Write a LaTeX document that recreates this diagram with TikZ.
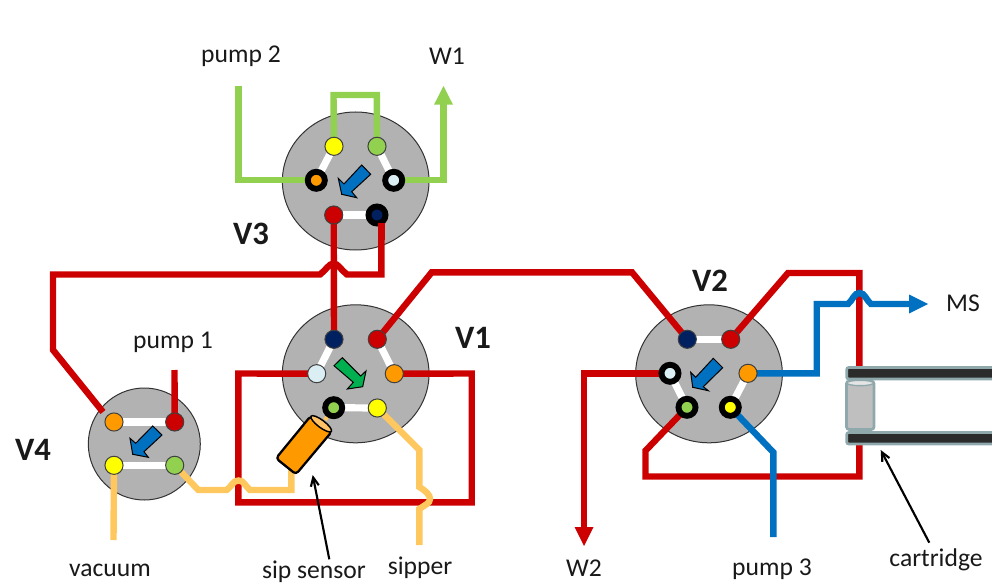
\documentclass[tikz,border=0pt]{standalone}
\usepackage{fontspec}
\setmainfont{Carlito}
\usetikzlibrary{arrows.meta,shapes.geometric,calc}
\pgfdeclarelayer{disc}\pgfdeclarelayer{wire}
\pgfsetlayers{disc,wire,main}
\definecolor{cred}{HTML}{CC0000}
\definecolor{cgreen}{HTML}{92D050}
\definecolor{ctan}{HTML}{FFC85F}
\definecolor{cblue}{HTML}{0070C0}
\definecolor{corange}{HTML}{FF9900}
\definecolor{clight}{HTML}{DAEEF3}
\definecolor{cnavy}{HTML}{002060}
\definecolor{cyel}{HTML}{FFFF00}
\definecolor{carrowg}{HTML}{00B050}
\definecolor{cdisc}{HTML}{B2B2B2}
\definecolor{cteal}{HTML}{8FA8AC}
\definecolor{cbar}{HTML}{2B2B2B}
\tikzset{
  x=.75pt,y=-.75pt,
  valve/.style={ellipse,draw=black!80,line width=.75pt,fill=cdisc,inner sep=0pt,outer sep=0pt,minimum width=110pt,minimum height=103.5pt},
  smallvalve/.style={valve,minimum width=84pt,minimum height=84pt},
  port/.style={circle,draw=black!75,line width=.75pt,fill=#1,inner sep=0pt,outer sep=0pt,minimum size=13.6pt},
  ringport/.style={circle,draw=black,line width=4.4pt,fill=#1,inner sep=0pt,outer sep=0pt,minimum size=12.8pt},
  link/.style={white,line width=5.4pt},
  redw/.style={cred,line width=4.8pt,miter limit=10},
  greenw/.style={cgreen,line width=4.8pt},
  tanw/.style={ctan,line width=4.8pt},
  bluew/.style={cblue,line width=4.8pt},
  dirarrow/.style={draw=black,line width=.75pt,fill=#1,line join=miter},
  lbl/.style={font=\fontsize{19.2pt}{22pt}\selectfont,text=black!90,inner sep=0pt},
  vlbl/.style={font=\fontsize{24.5pt}{28pt}\selectfont\bfseries,text=black!90,inner sep=0pt},
  pointer/.style={black,line width=1.6pt,-{Straight Barb[length=6.5pt,width=10pt,angle'=50]}},
  barbox/.style={draw=cteal,line width=2pt,fill=cbar,rounded corners=1.5pt},
}
\begin{document}
\begin{tikzpicture}
\useasboundingbox (0,0) rectangle (992,588);
% valve bodies
\begin{pgfonlayer}{disc}
\node[valve] (V3) at (355.7,181) {};
\node[valve] (V1) at (355.7,373.8) {};
\node[valve] (V2) at (709,373.8) {};
\node[smallvalve] (V4) at (144.3,444) {};
\end{pgfonlayer}
% ports V3
\node[port=cyel] (v3y) at (334,146.3) {};
\node[port=cgreen] (v3g) at (377,146.3) {};
\node[ringport=corange] (v3o) at (316.3,180.3) {};
\node[ringport=clight] (v3l) at (393.7,180.3) {};
\node[port=cred] (v3r) at (333.7,215) {};
\node[ringport=cnavy] (v3n) at (377,215) {};
% ports V1
\node[port=cnavy] (v1n) at (334,339.3) {};
\node[port=cred] (v1r) at (377.3,339.3) {};
\node[port=clight] (v1l) at (316.7,373.7) {};
\node[port=corange] (v1o) at (394.3,373.7) {};
\node[ringport=cgreen] (v1g) at (333.7,407.7) {};
\node[port=cyel] (v1y) at (377.3,408) {};
% ports V4
\node[port=corange] (v4o) at (114,422) {};
\node[port=cred] (v4r) at (174.7,422) {};
\node[port=cyel] (v4y) at (114,465.3) {};
\node[port=cgreen] (v4g) at (174.7,465.3) {};
% ports V2
\node[port=cnavy] (v2n) at (687.3,339.3) {};
\node[port=cred] (v2r) at (730.7,339.3) {};
\node[ringport=clight] (v2l) at (670,373.3) {};
\node[port=corange] (v2o) at (748,373.3) {};
\node[ringport=cgreen] (v2g) at (687,407.3) {};
\node[ringport=cyel] (v2y) at (730.3,407.3) {};
% free ends
\coordinate (pump2end) at (238.3,86);
\coordinate (w1end) at (443.5,86);
\coordinate (v4topend) at (174.5,370);
\coordinate (vacend) at (113.5,540);
\coordinate (sipend) at (419.3,545);
\coordinate (w2end) at (584,546);
\coordinate (w2neck) at (584,530);
\coordinate (p3end) at (773.3,537);
\coordinate (msend) at (928,304);
\coordinate (sensorbase) at (291.3,470);
\coordinate (sensortop) at (325,420);
\begin{pgfonlayer}{wire}
% white links
\draw[link] (v3y) -- (v3o);
\draw[link] (v3g) -- (v3l);
\draw[link] (v3r) -- (v3n);
\draw[link] (v1n) -- (v1l);
\draw[link] (v1r) -- (v1o);
\draw[link] (v1g) -- (v1y);
\draw[link] (v4o) -- (v4r);
\draw[link] (v4y) -- (v4g);
\draw[link] (v2n) -- (v2r);
\draw[link] (v2l) -- (v2g);
\draw[link] (v2o) -- (v2y);
% red
\draw[redw] (v3r.center) -- (v1n.center);
\draw[redw] (381.3,223) -- (381.3,274.5) -- (347,274.5)
  .. controls (341,270) and (338,263.5) .. (333.7,263.5)
  .. controls (329,263.5) and (326,270) .. (320,274.5)
  -- (53,274.5) -- (53,350) -- (103,412);
\draw[redw] (v1r.center) -- (431.7,272.3) -- (632,272.3) -- (v2n.center);
\draw[redw] (v2r.center) -- (788,273) -- (859.3,273) -- (859.3,476.5) -- (645.5,476.5) -- (645.5,450.7) -- (v2g.center);
\draw[redw] (v2l.center) -- (584,373.3) -- (w2neck);
\draw[redw] (v1l.center) -- (238.3,373.5) -- (238.3,502.3) -- (471.7,502.3) -- (471.7,373.5) -- (v1o.center);
\draw[redw] (v4r.center) -- (v4topend);
% green
\draw[greenw] (pump2end) -- (238.3,180.3) -- (v3o.center);
\draw[greenw] (v3y.center) -- (333.5,95) -- (376.8,95) -- (v3g.center);
\draw[greenw] (v3l.center) -- (443.5,180.3) -- (443.5,100);
% tan
\draw[tanw] (v4g.center) -- (198.3,490) -- (226.7,490)
  .. controls (232,486) and (233,480.5) .. (238.5,480.5)
  .. controls (244,480.5) and (245,486) .. (250,490)
  -- (291.3,490) -- (sensorbase);
\draw[tanw] (v1y.center) -- (419.3,450) -- (419.3,487)
  .. controls (426,491) and (430,495) .. (430,499)
  .. controls (430,503) and (425,505) .. (419.3,509)
  -- (sipend);
\draw[tanw] (v4y.center) -- (vacend);
\draw[tanw,line width=3pt] (v1g.center) -- (sensortop);
% blue
\draw[bluew] (v2y.center) -- (773.3,452.3) -- (p3end);
\draw[bluew] (v2o.center) -- (816.7,373.3) -- (816.7,304) -- (848,304)
  .. controls (853,300) and (854,293) .. (859.5,293)
  .. controls (865,293) and (866,300) .. (871,304)
  -- (912,304);
\end{pgfonlayer}
% wire arrowheads
\fill[cgreen] (w1end) -- (453,104.7) -- (434,104.7) -- cycle;
\fill[cred] (w2end) -- (593.5,527) -- (574.5,527) -- cycle;
\fill[cblue] (msend) -- (909,294.5) -- (909,313.5) -- cycle;
% red stub over the ring of V3
\draw[redw] (381.3,223) -- (381.3,240);
% direction arrows
\draw[dirarrow=cblue] (361.7,165) -- (370.7,174.3) -- (351.7,191.7) -- (356.7,197.7) -- (341.7,194.3) -- (338.3,178.3) -- (344,184) -- cycle;
\draw[dirarrow=carrowg] (342.3,357.7) -- (334,365.7) -- (353.3,382.3) -- (347.3,389) -- (362.7,386.7) -- (366,371) -- (360.7,376) -- cycle;
\draw[dirarrow=cblue] (152.7,426) -- (162,435) -- (144,451.7) -- (148.3,457.3) -- (132.7,454.3) -- (130,438.3) -- (135.7,443.3) -- cycle;
\draw[dirarrow=cblue] (713.3,358.3) -- (722.7,367.7) -- (703.3,386.7) -- (708.3,390.7) -- (692.7,387.3) -- (690.7,372.3) -- (695.7,377.3) -- cycle;
% sip sensor
\draw[black,line width=1.7pt,fill=corange,rounded corners=2.5pt,line join=round] (310.7,416) -- (331.7,431.7) -- (296,474.3) -- (276,458.3) -- cycle;
\node[ellipse,draw=black,line width=1.1pt,fill=corange!60!white,rotate=-37,inner sep=0pt,minimum width=19pt,minimum height=5.5pt] (sensorcap) at (321.2,423.8) {};
% cartridge
\draw[barbox] (846.7,367.5) rectangle (1000,379);
\draw[barbox] (846.7,432.5) rectangle (1000,444);
\draw[draw=cteal,line width=2pt,fill=black!25,rounded corners=2pt] (846.5,381) rectangle (874,429.5);
\node[ellipse,draw=cteal,line width=1pt,fill=black!10,inner sep=0pt,minimum width=20pt,minimum height=4pt] (cartcap) at (860.2,383) {};
% labels
\node[lbl] (pump2) at (241,56) {pump 2};
\node[lbl] (w1) at (447,56) {W1};
\node[lbl] (pump1) at (173,342) {pump 1};
\node[lbl] (vac) at (110,570) {vacuum};
\node[lbl] (sips) at (314,572) {sip sensor};
\node[lbl] (sipper) at (420,568) {sipper};
\node[lbl] (w2) at (584,568) {W2};
\node[lbl] (pump3) at (772,569) {pump 3};
\node[lbl] (cart) at (936,560) {cartridge};
\node[lbl] (ms) at (963,303) {MS};
\node[vlbl] (lv3) at (251,234) {V3};
\node[vlbl] (lv1) at (473,338) {V1};
\node[vlbl] (lv2) at (710,281) {V2};
\node[vlbl] (lv4) at (33,450) {V4};
% pointers
\coordinate (sipptr) at (312.7,475);
\coordinate (cartptr) at (880.7,450);
\draw[pointer] (329.3,559.3) -- (sipptr);
\draw[pointer] (929.3,542.7) -- (cartptr);
\end{tikzpicture}
\end{document}
